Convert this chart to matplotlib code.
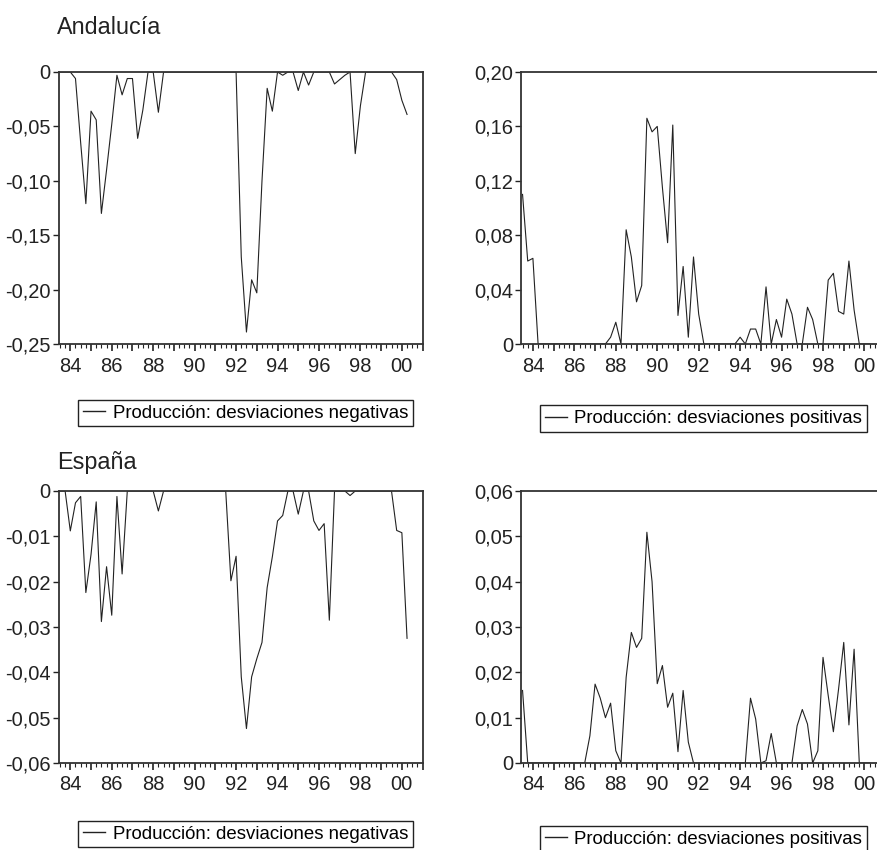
import numpy as np
import pandas as pd
import matplotlib
matplotlib.use('Agg')
import matplotlib.pyplot as plt
import matplotlib.ticker as mticker
from matplotlib.lines import Line2D

plt.rcParams['font.family'] = ['Liberation Sans', 'DejaVu Sans']

# quarterly sample 1983Q3 - 2000Q2
quarters = pd.period_range('1983Q3', '2000Q2', freq='Q')

# Andalucia, negative deviations of production
and_neg = [0, 0, 0, -0.006, -0.065, -0.121, -0.036, -0.044, -0.130, -0.090,
           -0.048, -0.003, -0.021, -0.006, -0.006, -0.061, -0.035, 0, 0, -0.037,
           0, 0, 0, 0, 0, 0, 0, 0, 0, 0,
           0, 0, 0, 0, 0, -0.170, -0.239, -0.191, -0.203, -0.100,
           -0.015, -0.036, 0, -0.003, 0, 0, -0.017, 0, -0.012, 0,
           0, 0, 0, -0.011, -0.007, -0.003, 0, -0.075, -0.031, 0,
           0, 0, 0, 0, 0, -0.007, -0.026, -0.039]

# Andalucia, positive deviations of production
and_pos = [0.110, 0.061, 0.063, 0, 0, 0, 0, 0, 0, 0,
           0, 0, 0, 0, 0, 0, 0, 0.005, 0.016, 0,
           0.084, 0.064, 0.031, 0.043, 0.166, 0.156, 0.160, 0.115, 0.0745, 0.161,
           0.021, 0.057, 0.005, 0.064, 0.022, 0, 0, 0, 0, 0,
           0, 0, 0.005, 0, 0.011, 0.011, 0, 0.042, 0, 0.018,
           0.005, 0.033, 0.022, 0, 0, 0.027, 0.018, 0, 0, 0.047,
           0.052, 0.024, 0.022, 0.061, 0.025, 0, 0, 0]

# Espana, negative deviations
esp_neg = [0, 0, -0.0088, -0.0026, -0.0012, -0.0224, -0.0140, -0.0024, -0.0288, -0.0167,
           -0.0274, -0.0012, -0.0183, 0, 0, 0, 0, 0, 0, -0.0044,
           0, 0, 0, 0, 0, 0, 0, 0, 0, 0,
           0, 0, 0, -0.0198, -0.0144, -0.0410, -0.0524, -0.0410, -0.0370, -0.0334,
           -0.0213, -0.0145, -0.0066, -0.0054, 0, 0, -0.0051, 0, 0, -0.0066,
           -0.0087, -0.0072, -0.0285, 0, 0, 0, -0.0010, 0, 0, 0,
           0, 0, 0, 0, 0, -0.0087, -0.0092, -0.0325]

# Espana, positive deviations
esp_pos = [0.016, 0, 0, 0, 0, 0, 0, 0, 0, 0,
           0, 0, 0, 0.006, 0.0174, 0.0143, 0.0100, 0.0132, 0.0027, 0,
           0.0189, 0.0288, 0.0255, 0.0275, 0.0509, 0.0400, 0.0175, 0.0215, 0.0123, 0.0154,
           0.0025, 0.0160, 0.0046, 0, 0, 0, 0, 0, 0, 0,
           0, 0, 0, 0, 0.0143, 0.0097, 0, 0.0005, 0.0065, 0,
           0, 0, 0, 0.0082, 0.0118, 0.0086, 0, 0.0027, 0.0233, 0.0149,
           0.0069, 0.0163, 0.0266, 0.0084, 0.0251, 0, 0, 0]

leg_neg = 'Producción: desviaciones negativas'
leg_pos = 'Producción: desviaciones positivas'

x = quarters.year + (quarters.quarter - 1) / 4.0


def comma_fmt(v, pos):
    if abs(v) < 1e-9:
        return '0'
    return ('%.2f' % v).replace('.', ',')


def year_fmt(v, pos):
    y = int(round(v))
    if y % 2 == 0:
        return '%02d' % (y % 100)
    return ''


def style_axis(ax, ylim, ystep):
    ax.set_xlim(1983.44, 2001.02)
    ax.set_ylim(*ylim)
    ax.yaxis.set_major_locator(mticker.MultipleLocator(ystep))
    ax.yaxis.set_major_formatter(mticker.FuncFormatter(comma_fmt))
    ax.xaxis.set_major_locator(mticker.MultipleLocator(1))
    ax.xaxis.set_minor_locator(mticker.MultipleLocator(0.25))
    ax.xaxis.set_major_formatter(mticker.FuncFormatter(year_fmt))
    ax.tick_params(axis='y', direction='out', length=4, width=1, labelsize=14.5,
                   pad=2, colors='#222222')
    ax.tick_params(axis='x', which='major', direction='out', length=5, width=1.2,
                   labelsize=14.5, pad=4, colors='#222222')
    ax.tick_params(axis='x', which='minor', direction='out', length=3, width=0.8,
                   colors='#222222')
    for s in ax.spines.values():
        s.set_linewidth(1.3)
        s.set_color('#333333')


def add_legend(ax, label, cx, cy):
    h = [Line2D([], [], color='#222222', lw=1.0)]
    leg = ax.legend(h, [label], loc='center', bbox_to_anchor=(cx / 878, 1 - cy / 850),
                    bbox_transform=fig.transFigure, frameon=True, fancybox=False,
                    edgecolor='#222222', framealpha=1, handlelength=1.2,
                    handletextpad=0.4, borderpad=0.25,
                    prop={'family': ['Liberation Sans Narrow', 'Liberation Sans'], 'size': 13.4})
    leg.get_frame().set_linewidth(1.0)


fig = plt.figure(figsize=(8.78, 8.5), dpi=100)

w = 364.3 / 878
h = 272 / 850
ax1 = fig.add_axes([58.7 / 878, 1 - 344 / 850, w, h])
ax2 = fig.add_axes([521.3 / 878, 1 - 344 / 850, w, h])
ax3 = fig.add_axes([58.7 / 878, 1 - 763 / 850, w, h])
ax4 = fig.add_axes([521.3 / 878, 1 - 763 / 850, w, h])

ax1.plot(x, and_neg, color='#222222', lw=0.8)
ax2.plot(x, and_pos, color='#222222', lw=0.8)
ax3.plot(x, esp_neg, color='#222222', lw=0.8)
ax4.plot(x, esp_pos, color='#222222', lw=0.8)

style_axis(ax1, (-0.25, 0), 0.05)
style_axis(ax2, (0, 0.20), 0.04)
style_axis(ax3, (-0.06, 0), 0.01)
style_axis(ax4, (0, 0.06), 0.01)

add_legend(ax1, leg_neg, 245.5, 413)
add_legend(ax2, leg_pos, 703.5, 418.5)
add_legend(ax3, leg_neg, 245.5, 834)
add_legend(ax4, leg_pos, 703.5, 839)

fig.text(57 / 878, 1 - 28 / 850, 'Andalucía', fontsize=16.8, va='center', ha='left', color='#222222')
fig.text(57 / 878, 1 - 462 / 850, 'España', fontsize=16.8, va='center', ha='left', color='#222222')

fig.savefig('out.png', dpi=100)
